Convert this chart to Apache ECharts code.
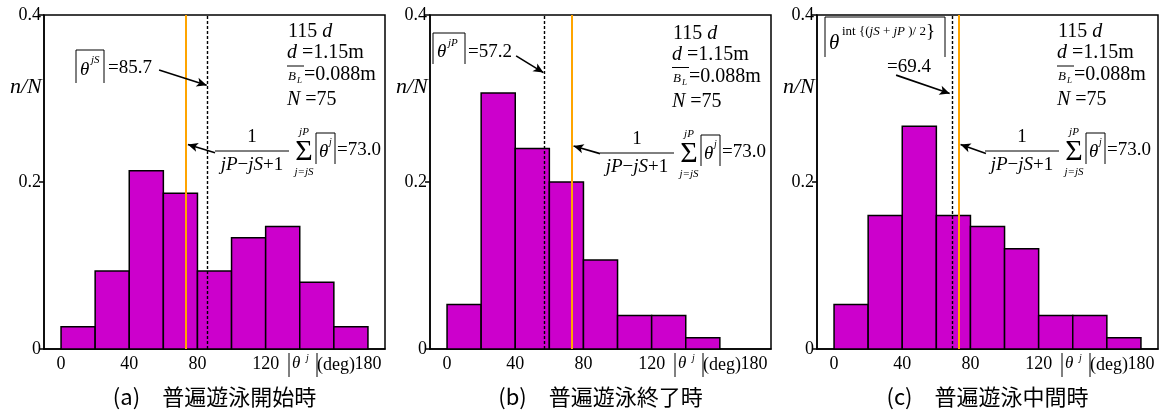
<!DOCTYPE html>
<html><head><meta charset="utf-8">
<script src="https://cdn.jsdelivr.net/npm/echarts@6/dist/echarts.min.js"></script>
<style>html,body{margin:0;padding:0;background:#fff}#c{width:1160px;height:418px}</style>
</head><body><div id="c"></div>
<script>
// ---- data ----
const binEdges = [0, 20, 40, 60, 80, 100, 120, 140, 160, 180];
const countsStart = [2, 7, 16, 14, 7, 10, 11, 6, 2];
const countsEnd = [4, 23, 18, 15, 8, 3, 3, 1, 0];
const countsMid = [4, 12, 20, 12, 11, 9, 3, 3, 1];
const totalN = 75;
const meanAll = 73.0;
const meanStart = 85.7;
const meanEnd = 57.2;
const meanMid = 69.4;
const xTickValues = [0, 40, 80, 120, 180];
const yTickValues = [0, 0.2, 0.4];
const captions = ['(a)　普遍遊泳開始時', '(b)　普遍遊泳終了時', '(c)　普遍遊泳中間時'];
// arrows: [from, to] in data coords
const arrowsStart = [[[57.5, 0.334], [85.4, 0.316]], [[90.3, 0.235], [74.4, 0.245]]];
const arrowsEnd = [[[40.5, 0.351], [56.5, 0.331]], [[89.7, 0.234], [74.2, 0.243]]];
const arrowsMid = [[[36.4, 0.328], [67.8, 0.306]], [[89.1, 0.234], [74.2, 0.245]]];

// ---- layout ----
const SERIF = 'Liberation Serif';
const CJK = 'Noto Sans CJK JP';
const gridLefts = [44, 430, 817];
const GW = 341, GT = 15, GH = 334;

const panels = [
  {counts: countsStart, mean: meanStart, arrows: arrowsStart},
  {counts: countsEnd, mean: meanEnd, arrows: arrowsEnd},
  {counts: countsMid, mean: meanMid, arrows: arrowsMid}
];

function renderBar(params, api) {
  const p0 = api.coord([api.value(0), api.value(2)]);
  const p1 = api.coord([api.value(1), 0]);
  return {type: 'rect', shape: {x: p0[0], y: p0[1], width: p1[0] - p0[0], height: p1[1] - p0[1]},
    style: {fill: '#CC00CC', stroke: '#000', lineWidth: 1.5}};
}

const grid = [], xAxis = [], yAxis = [], series = [];
panels.forEach((p, i) => {
  grid.push({left: gridLefts[i], top: GT, width: GW, height: GH, show: true, borderColor: '#000', borderWidth: 1.5, containLabel: false});
  xAxis.push({type: 'value', gridIndex: i, min: -10, max: 190,
    axisLine: {onZero: false, lineStyle: {color: '#000', width: 1.5}},
    axisTick: {show: false}, splitLine: {show: false},
    axisLabel: {customValues: xTickValues, color: '#000', fontFamily: SERIF, fontSize: 18, margin: 6}});
  yAxis.push({type: 'value', gridIndex: i, min: 0, max: 0.4,
    axisLine: {onZero: false, lineStyle: {color: '#000', width: 1.5}},
    axisTick: {show: true, length: 5, lineStyle: {color: '#000', width: 1.5}, customValues: yTickValues},
    splitLine: {show: false},
    axisLabel: {customValues: yTickValues, color: '#000', fontFamily: SERIF, fontSize: 18, margin: 3,
      formatter: v => v === 0 ? '0' : v.toFixed(1)}});
  const data = p.counts.map((c, k) => [binEdges[k], binEdges[k + 1], c / totalN]).filter(d => d[2] > 0);
  series.push({type: 'custom', xAxisIndex: i, yAxisIndex: i, renderItem: renderBar, data: data,
    encode: {x: [0, 1], y: 2}, z: 2});
  series.push({type: 'line', xAxisIndex: i, yAxisIndex: i, data: [], z: 5,
    markLine: {silent: true, symbol: ['none', 'none'], label: {show: false}, animation: false,
      data: [
        {xAxis: p.mean, lineStyle: {color: '#000', width: 1.4, type: [3, 2]}},
        {xAxis: meanAll, lineStyle: {color: '#FFA500', width: 2, type: 'solid'}}
      ]}});
  series.push({type: 'line', xAxisIndex: i, yAxisIndex: i, data: [], z: 6,
    markLine: {silent: true, symbol: ['none', 'arrow'], symbolSize: [7, 10], label: {show: false}, animation: false,
      lineStyle: {color: '#000', width: 1.6, type: 'solid'},
      data: p.arrows.map(a => [{coord: a[0]}, {coord: a[1]}])}});
});

// ---- annotation text helpers ----
function T(x, y, text, size, o) {
  return {type: 'text', x: x, y: y, z: 100, silent: true,
    style: Object.assign({text: text, fontSize: size, fontFamily: SERIF, fill: '#000', align: 'left', verticalAlign: 'middle'}, o || {})};
}
function R(x, y, text, size, o) {
  const base = {fontSize: size, fontFamily: SERIF, fill: '#000'};
  return T(x, y, text, size, Object.assign({rich: {
    u: Object.assign({}, base), i: Object.assign({}, base, {fontStyle: 'italic'}),
    s: Object.assign({}, base, {fontSize: Math.round(size * 0.7)}),
    si: Object.assign({}, base, {fontSize: Math.round(size * 0.7), fontStyle: 'italic'})
  }}, o || {}));
}
function L(x1, y1, x2, y2, w) {
  return {type: 'line', z: 100, silent: true, shape: {x1: x1, y1: y1, x2: x2, y2: y2}, style: {stroke: '#000', lineWidth: w || 1}};
}

const graphic = [];
const offs = [0, 385, 770];
panels.forEach((p, i) => {
  const dx = offs[i], gx = gridLefts[i] - 44;
  const dy = i === 1 ? 1.5 : 0;
  // y axis name
  graphic.push(T([10, 396, 783][i], 87, 'n/N', 22, {fontStyle: 'italic'}));
  // info block
  graphic.push(R(288 + dx, 32 + dy, '{u|115}{i| d}', 20));
  graphic.push(R(287 + dx, 53 + dy, '{i|d}{u| =1.15m}', 20));
  graphic.push(T(288 + dx, 77 + dy, 'B', 13, {fontStyle: 'italic'}));
  graphic.push(T(297 + dx, 81 + dy, 'L', 9, {fontStyle: 'italic'}));
  graphic.push(L(287 + dx, 66 + dy, 304 + dx, 66 + dy, 1));
  graphic.push(T(304 + dx, 75 + dy, '=0.088m', 20));
  graphic.push(R(287 + dx, 100 + dy, '{i|N}{u| =75}', 20));
  // formula 2 (mean of all)
  const fy = i === 1 ? 2 : 0;
  graphic.push(T(252 + dx, 137 + fy, '1', 19, {align: 'center'}));
  graphic.push(L(215 + dx, 151 + fy, 289 + dx, 151 + fy, 1));
  graphic.push(R(252 + dx, 165 + fy, '{i|jP}{u|−}{i|jS}{u|+1}', 19, {align: 'center'}));
  graphic.push(T(304 + dx, 152 + fy, 'Σ', 30, {align: 'center'}));
  graphic.push(T(304 + dx, 132 + fy, 'jP', 11, {align: 'center', fontStyle: 'italic'}));
  graphic.push(T(304 + dx, 172 + fy, 'j=jS', 11, {align: 'center', fontStyle: 'italic'}));
  graphic.push(L(316 + dx, 133 + fy, 316 + dx, 164 + fy, 1));
  graphic.push(L(335 + dx, 133 + fy, 335 + dx, 164 + fy, 1));
  graphic.push(L(316 + dx, 133 + fy, 335 + dx, 133 + fy, 1));
  graphic.push(T(319 + dx, 152 + fy, 'θ', 19, {fontStyle: 'italic'}));
  graphic.push(T(329 + dx, 142 + fy, 'j', 10, {fontStyle: 'italic'}));
  graphic.push(T(337 + dx, 150 + fy, '=73.0', 19));
  // x axis quantity label
  graphic.push(L(289 + gx, 353, 289 + gx, 377, 1));
  graphic.push(L(317 + gx, 353, 317 + gx, 377, 1));
  graphic.push(T(292 + gx, 364, 'θ', 17, {fontStyle: 'italic'}));
  graphic.push(T(306 + gx, 358, 'j', 10, {fontStyle: 'italic'}));
  graphic.push(T(317 + gx, 365, '(deg)', 18));
  // caption
  graphic.push(T(gridLefts[i] + GW / 2, 397, captions[i], 22, {align: 'center', fontFamily: CJK}));
});
// formula 1 (a)
graphic.push(L(76, 50, 76, 83), L(104, 50, 104, 83), L(76, 50, 104, 50));
graphic.push(T(80, 70, 'θ', 19, {fontStyle: 'italic'}));
graphic.push(T(91, 60, 'jS', 11, {fontStyle: 'italic'}));
graphic.push(T(108, 68, '=85.7', 19));
// formula 1 (b)
graphic.push(L(433, 33, 433, 64), L(465, 33, 465, 64), L(433, 33, 465, 33));
graphic.push(T(437, 52, 'θ', 19, {fontStyle: 'italic'}));
graphic.push(T(448, 43, 'jP', 11, {fontStyle: 'italic'}));
graphic.push(T(468, 52, '=57.2', 19));
// formula 1 (c)
graphic.push(L(825, 17, 825, 57), L(945, 17, 945, 57), L(825, 17, 945, 17));
graphic.push(T(829, 43, 'θ', 21, {fontStyle: 'italic'}));
graphic.push(R(842, 32, '{s|int }{s|{(}{si|jS}{s| + }{si|jP}{s| )/ 2}}', 19));
graphic.push(T(887, 67, '=69.4', 19));

const chart = echarts.init(document.getElementById('c'), null, {renderer: 'canvas'});
chart.setOption({animation: false, textStyle: {fontFamily: SERIF}, grid: grid, xAxis: xAxis, yAxis: yAxis, series: series, graphic: graphic});
</script>
</body></html>
